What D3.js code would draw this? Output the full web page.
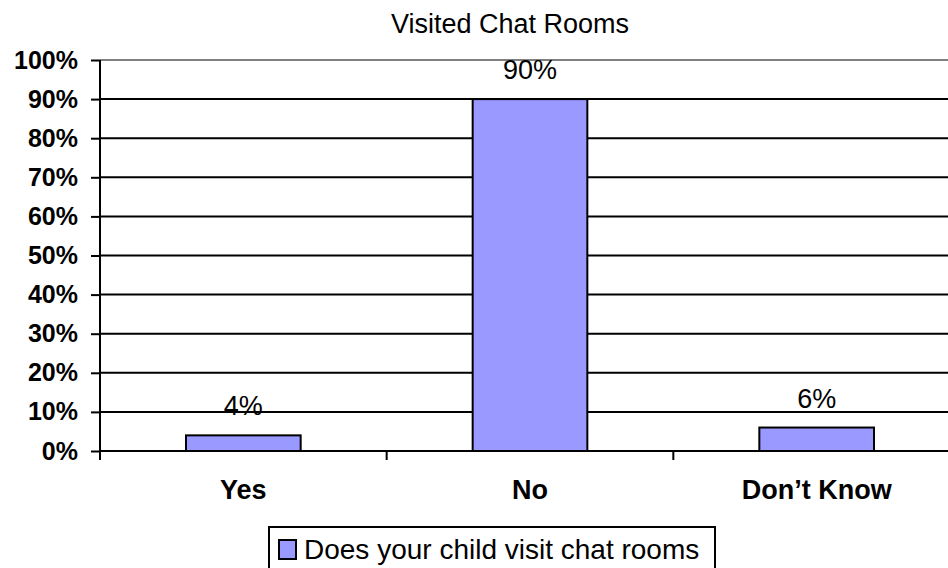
<!DOCTYPE html>
<html>
<head>
<meta charset="utf-8">
<script src="https://cdn.jsdelivr.net/npm/d3@7"></script>
<style>
  body { margin: 0; background: #fff; }
  svg { display: block; font-family: "Liberation Sans", Arial, sans-serif; }
</style>
</head>
<body>
<div id="chart"></div>
<script>
// chart data
const categories = ["Yes", "No", "Don\u2019t Know"];
const values = [0.04, 0.90, 0.06];
const yTicks = [0, 0.1, 0.2, 0.3, 0.4, 0.5, 0.6, 0.7, 0.8, 0.9, 1.0];
const seriesName = "Does your child visit chat rooms";
const title = "Visited Chat Rooms";

const width = 948;
const height = 568;
const margin = { top: 60, right: -12, bottom: 117, left: 100 };

const svg = d3.select("#chart")
    .append("svg")
    .attr("width", width)
    .attr("height", height);

// scales
const x = d3.scaleBand()
    .domain(categories)
    .range([margin.left, width - margin.right])
    .paddingInner(0.6)
    .paddingOuter(0.3);

// band step used for category tick marks
const step = (width - margin.right - margin.left) / categories.length;

const y = d3.scaleLinear()
    .domain([0, 1])
    .range([height - margin.bottom, margin.top]);

// gridlines
svg.selectAll(".grid")
    .data(yTicks.filter(d => d > 0))
    .enter()
    .append("line")
    .attr("x1", margin.left)
    .attr("x2", width - margin.right)
    .attr("y1", d => y(d))
    .attr("y2", d => y(d))
    .attr("stroke", d => d === 1 ? "#808080" : "#000")
    .attr("stroke-width", 2);

// y axis
const yAxis = svg.append("g")
    .attr("transform", `translate(${margin.left},0)`)
    .call(d3.axisLeft(y).tickValues(yTicks).tickFormat(d3.format(".0%")).tickSize(9).tickPadding(13));
yAxis.select(".domain").attr("stroke-width", 2).attr("d", `M0,${y(1)}V${y(0) + 9}`);
yAxis.selectAll(".tick line").attr("stroke-width", 2);
yAxis.selectAll(".tick text")
    .attr("font-size", "25px")
    .attr("font-weight", "bold")
    .attr("font-family", "Liberation Sans, Arial, sans-serif")
    .attr("fill", "#000");

// x axis baseline and ticks
svg.append("line")
    .attr("x1", margin.left)
    .attr("x2", width - margin.right)
    .attr("y1", y(0))
    .attr("y2", y(0))
    .attr("stroke", "#000")
    .attr("stroke-width", 2);

svg.selectAll(".xtick")
    .data(d3.range(1, categories.length + 1))
    .enter()
    .append("line")
    .attr("x1", i => margin.left + i * step)
    .attr("x2", i => margin.left + i * step)
    .attr("y1", y(0))
    .attr("y2", y(0) + 9)
    .attr("stroke", "#000")
    .attr("stroke-width", 2);

svg.selectAll(".xlabel")
    .data(categories)
    .enter()
    .append("text")
    .attr("x", d => x(d) + x.bandwidth() / 2)
    .attr("y", y(0) + 48)
    .attr("text-anchor", "middle")
    .attr("font-size", "27px")
    .attr("font-weight", "bold")
    .text(d => d);

// bars
svg.selectAll(".bar")
    .data(values)
    .enter()
    .append("rect")
    .attr("x", (d, i) => x(categories[i]))
    .attr("y", d => y(d))
    .attr("width", x.bandwidth())
    .attr("height", d => y(0) - y(d))
    .attr("fill", "#9999FF")
    .attr("stroke", "#000")
    .attr("stroke-width", 2);

// value labels
svg.selectAll(".val")
    .data(values)
    .enter()
    .append("text")
    .attr("x", (d, i) => x(categories[i]) + x.bandwidth() / 2)
    .attr("y", d => y(d) - 20)
    .attr("text-anchor", "middle")
    .attr("font-size", "27px")
    .text(d => d3.format(".0%")(d));

// title
svg.append("text")
    .attr("x", 510)
    .attr("y", 33)
    .attr("text-anchor", "middle")
    .attr("font-size", "27px")
    .text(title);

// legend
const legend = svg.append("g");
legend.append("rect")
    .attr("x", 269)
    .attr("y", 527)
    .attr("width", 446)
    .attr("height", 50)
    .attr("fill", "#fff")
    .attr("stroke", "#000")
    .attr("stroke-width", 2);
legend.append("rect")
    .attr("x", 279)
    .attr("y", 540)
    .attr("width", 17)
    .attr("height", 19)
    .attr("fill", "#9999FF")
    .attr("stroke", "#000")
    .attr("stroke-width", 2);
legend.append("text")
    .attr("x", 304)
    .attr("y", 559)
    .attr("font-size", "28px")
    .text(seriesName);
</script>
</body>
</html>
